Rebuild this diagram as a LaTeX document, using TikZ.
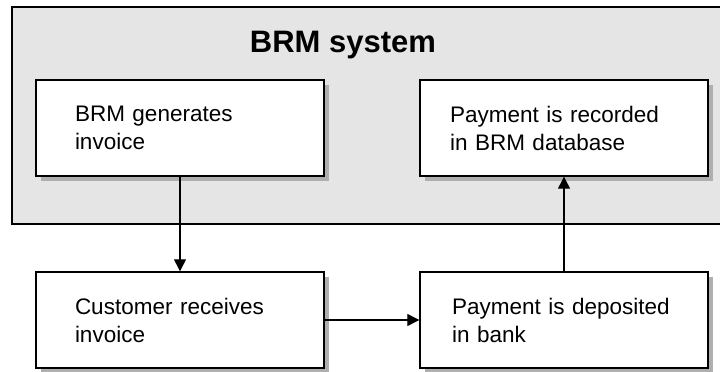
\documentclass[tikz,border=0pt]{standalone}
\usepackage{fontspec}
\setmainfont{Liberation Sans}
\usetikzlibrary{arrows.meta, positioning, shadows}

\definecolor{sysgray}{RGB}{229,229,229}
\definecolor{shadowgray}{RGB}{175,175,175}

\tikzset{
  stepbox/.style={draw, line width=1.4pt, fill=white, minimum width=288pt,
    minimum height=96pt, text width=210pt, align=left,
    font=\fontsize{22.5}{28}\selectfont,
    drop shadow={shadow xshift=5pt, shadow yshift=-5pt, fill=shadowgray, opacity=1}},
  flow/.style={-{Triangle[length=12pt,width=12pt]}, line width=1.3pt}
}

\begin{document}
\begin{tikzpicture}[x=1pt, y=-1pt]
  \useasboundingbox (0,0) rectangle (720,372);
  \clip (0,0) rectangle (720,372);
  \draw[fill=sysgray, line width=1.3pt] (12,7) rectangle (740,224);
  \node[font=\bfseries\fontsize{31}{34}\selectfont] (title) at (343,45) {BRM system};
  \node[stepbox] (gen) at (180,128) {BRM generates\\invoice};
  \node[stepbox, text width=228pt] (rec) at (564,128) {Payment is recorded\\in BRM database};
  \node[stepbox] (cust) at (180,320) {Customer receives\\invoice};
  \node[stepbox, text width=224pt] (dep) at (564,320) {Payment is deposited\\in bank};
  \draw[flow] (gen) -- (cust);
  \draw[flow] (cust) -- (dep);
  \draw[flow] (dep) -- (rec);
\end{tikzpicture}
\end{document}
